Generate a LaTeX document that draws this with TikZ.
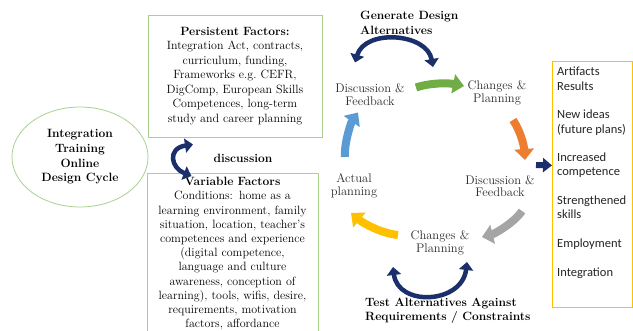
\documentclass[tikz,border=0pt]{standalone}
\usepackage{fontspec}
\newfontfamily\calibri{Carlito}
\usetikzlibrary{arrows.meta,shapes.geometric,calc}
\definecolor{navy}{HTML}{1B2F6B}
\definecolor{boxgreen}{HTML}{A9D18E}
\definecolor{boxyellow}{HTML}{FFC000}
\definecolor{cycgreen}{HTML}{70AD47}
\definecolor{cycorange}{HTML}{ED7D31}
\definecolor{cycgray}{HTML}{A5A5A5}
\definecolor{cycyellow}{HTML}{FFC000}
\definecolor{cycblue}{HTML}{5B9BD5}
\definecolor{labelgray}{HTML}{2A2A2A}
\tikzset{
  lbl/.style={text=labelgray, align=center, font=\fontsize{12.5}{12.5}\selectfont},
  boldlbl/.style={font=\fontsize{12}{14.5}\selectfont\bfseries, align=left, inner sep=2pt},
  fat/.style={line width=8pt, -{Triangle[length=11pt,width=19pt]}},
  twin/.style={draw=navy, line width=4.5pt, {Triangle[length=8pt,width=14pt]}-{Triangle[length=8pt,width=14pt]}},
}
\begin{document}
\begin{tikzpicture}[x=1pt,y=-1pt]
 \path[use as bounding box, fill=white] (0,0) rectangle (633,330);
 % left side: cycle name and the two kinds of factors
 \node[ellipse, draw=boxgreen, line width=0.8pt, minimum width=136pt, minimum height=100pt, inner sep=0pt, align=center, font=\fontsize{12}{14.7}\selectfont\bfseries] (itodc) at (80,157) {Integration\\Training\\Online\\Design Cycle};
 \node[draw=boxgreen, line width=0.8pt, text width=168pt, inner xsep=3pt, minimum height=122pt, align=center, font=\fontsize{12}{14.5}\selectfont] (pers) at (235,76)
  {\textbf{Persistent Factors:}\\Integration Act, contracts,\\curriculum, funding,\\Frameworks e.g.\ CEFR,\\DigComp, European Skills\\Competences, long-term\\study and career planning};
 \node[draw=boxgreen, line width=0.8pt, text width=165pt, inner xsep=3pt, inner ysep=4pt, anchor=north, align=center, font=\fontsize{12}{14.2}\selectfont] (var) at (232.5,173)
  {\textbf{Variable Factors}\\Conditions: home as a\\learning environment, family\\situation, location, teacher's\\competences and experience\\(digital competence,\\language and culture\\awareness, conception of\\learning), tools, wifis, desire,\\requirements, motivation\\factors, affordance};
 \node[boldlbl] (disc) at (243,158) {discussion};
 \draw[twin] ($(pers.south)+(-42,7)$) .. controls +(-26,4) and +(-20.5,-8) .. ($(var.north)+(-41,3)$);

 % the cycle
 \node[lbl] (df1) at (370,94.5) {Discussion \&\\Feedback};
 \node[lbl] (cp1) at (497,93) {Changes \&\\Planning};
 \node[lbl] (df2) at (500,186) {Discussion \&\\Feedback};
 \node[lbl] (cp2) at (440,243) {Changes \&\\Planning};
 \node[lbl] (ap) at (354,186) {Actual\\planning};
 \node[boldlbl, anchor=west] (gen) at (358,23) {Generate Design\\Alternatives};
 \node[boldlbl, anchor=west] (test) at (363,311) {Test Alternatives Against\\Requirements / Constraints};

 \draw[fat, cycgreen] ($(df1)+(46,-7)$) .. controls +(15,-5) and +(-15,-3) .. ($(cp1)+(-33,-7)$);
 \draw[fat, cycorange] ($(cp1)+(16,27)$) .. controls +(8,12) and +(-1,-14) .. ($(df2)+(25,-26)$);
 \draw[fat, cycgray] ($(df2)+(22,25)$) .. controls +(-8,12) and +(12,-3) .. ($(cp2)+(42,-6)$);
 \draw[fat, cycyellow] ($(cp2)+(-42,-8)$) .. controls +(-18,-2) and +(12,10) .. ($(ap)+(-3,27)$);
 \draw[fat, cycblue] ($(ap)+(-9,-29)$) .. controls +(-1,-14) and +(-7,10) .. ($(df1)+(-12,18)$);
 \draw[twin] ($(df1)+(-15,-32)$) .. controls +(10,-34) and +(-6,-34) .. ($(cp1)+(-64,-26)$);
 \draw[twin] ($(cp2)+(-47,24)$) .. controls +(5,40) and +(-5,42) .. ($(cp2)+(27,19)$);

 % outcomes
 \node[draw=boxyellow, line width=0.8pt, minimum width=80pt, minimum height=246pt, anchor=north west, inner sep=0pt] (out) at (552,61) {};
 \node[anchor=north west, align=left, inner xsep=5pt, inner ysep=6pt, text=black!85, font=\calibri\fontsize{12.5}{14.3}\selectfont] (outtxt) at (out.north west)
  {Artifacts\\Results\\[14.3pt]New ideas\\(future plans)\\[14.3pt]Increased\\competence\\[14.3pt]Strengthened\\skills\\[14.3pt]Employment\\[14.3pt]Integration};
 \draw[navy, line width=6pt, -{Triangle[length=9pt,width=14pt]}] ($(df2)+(36,-21)$) -- ($(out.west)+(0,-19)$);
\end{tikzpicture}
\end{document}
